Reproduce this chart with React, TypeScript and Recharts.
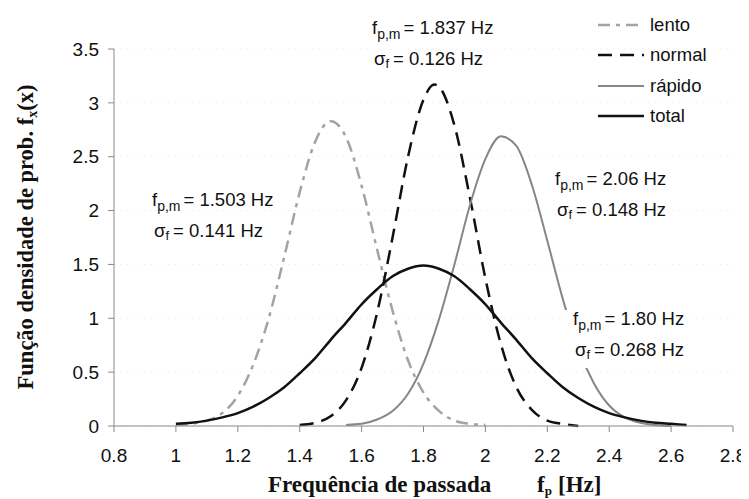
import { LineChart, Line, XAxis, YAxis, CartesianGrid } from 'recharts'

// (f_p in Hz, density)
const xLento = [1.0, 1.05, 1.1, 1.15, 1.2, 1.25, 1.3, 1.35, 1.4, 1.45, 1.5, 1.55, 1.6, 1.65, 1.7, 1.75, 1.8, 1.85, 1.9, 1.95, 2.0]
const yLento = [0.01, 0.02, 0.05, 0.12, 0.28, 0.57, 1.0, 1.57, 2.17, 2.64, 2.83, 2.68, 2.23, 1.64, 1.07, 0.61, 0.31, 0.14, 0.05, 0.02, 0.01]

const xNormal = [1.4, 1.45, 1.5, 1.55, 1.6, 1.65, 1.7, 1.75, 1.8, 1.835, 1.85, 1.9, 1.95, 2.0, 2.05, 2.1, 2.15, 2.2, 2.25, 2.3]
const yNormal = [0.01, 0.03, 0.09, 0.24, 0.54, 1.05, 1.75, 2.5, 3.03, 3.17, 3.15, 2.79, 2.12, 1.37, 0.76, 0.36, 0.15, 0.05, 0.02, 0.0]

const xRapido = [1.55, 1.6, 1.65, 1.7, 1.75, 1.8, 1.85, 1.9, 1.95, 2.0, 2.05, 2.1, 2.15, 2.2, 2.25, 2.3, 2.35, 2.4, 2.45, 2.5, 2.55, 2.6]
const yRapido = [0.01, 0.02, 0.06, 0.14, 0.3, 0.58, 0.99, 1.5, 2.05, 2.48, 2.69, 2.6, 2.24, 1.72, 1.18, 0.72, 0.4, 0.19, 0.08, 0.03, 0.01, 0.0]

const xTotal = [1.0, 1.05, 1.1, 1.15, 1.2, 1.25, 1.3, 1.35, 1.4, 1.45, 1.5, 1.55, 1.6, 1.65, 1.7, 1.75, 1.8, 1.85, 1.9, 1.95, 2.0, 2.05, 2.1, 2.15, 2.2, 2.25, 2.3, 2.35, 2.4, 2.45, 2.5, 2.55, 2.6, 2.65]
const yTotal = [0.02, 0.03, 0.05, 0.08, 0.12, 0.18, 0.26, 0.36, 0.49, 0.63, 0.8, 0.96, 1.13, 1.27, 1.39, 1.46, 1.49, 1.46, 1.39, 1.27, 1.13, 0.96, 0.8, 0.63, 0.49, 0.36, 0.26, 0.18, 0.12, 0.08, 0.05, 0.03, 0.02, 0.01]

const xTicks = [0.8, 1, 1.2, 1.4, 1.6, 1.8, 2, 2.2, 2.4, 2.6, 2.8]
const yTicks = [0, 0.5, 1, 1.5, 2, 2.5, 3, 3.5]

const toPoints = (xs: number[], ys: number[]) => xs.map((x, i) => ({ x, y: ys[i] }))

const SANS = '"Liberation Sans", Arial, sans-serif'
const SERIF = '"Liberation Serif", "Times New Roman", serif'

const GRAY_LIGHT = '#a3a3a3'
const GRAY = '#868686'
const BLACK = '#111'

const W = 741
const H = 491

function Stat({ x, y, mean, sd }: { x: number; y: number; mean: string; sd: string }) {
  return (
    <g fontFamily={SANS} fontSize={18.5} fill="#111">
      <text x={x} y={y}>
        f
        <tspan dy={5} fontSize={14}>p,m</tspan>
        <tspan dy={-5} dx={3}>= {mean} Hz</tspan>
      </text>
      <text x={x + 2} y={y + 31}>
        σ
        <tspan dy={3} fontSize={13}>f</tspan>
        <tspan dy={-3} dx={4}>= {sd} Hz</tspan>
      </text>
    </g>
  )
}

const legendItems = [
  { name: 'lento', color: GRAY_LIGHT, dash: '12 6 4 6', width: 2.5 },
  { name: 'normal', color: BLACK, dash: '14 8', width: 2.5 },
  { name: 'rápido', color: GRAY, dash: undefined, width: 2 },
  { name: 'total', color: BLACK, dash: undefined, width: 2.5 },
]

// Labels, legend and axis titles, drawn over the chart
function Overlay() {
  return (
    <svg width={W} height={H} style={{ position: 'absolute', left: 0, top: 0, pointerEvents: 'none' }}>
      {/* label box hides part of the rápido curve, as in the original */}
      <rect x={557} y={302} width={126} height={58} fill="#fff" />
      <Stat x={364} y={26} mean="1.837" sd="0.126" />
      <Stat x={144} y={198} mean="1.503" sd="0.141" />
      <Stat x={547} y={177} mean="2.06" sd="0.148" />
      <Stat x={565} y={317} mean="1.80" sd="0.268" />

      {legendItems.map((it, i) => {
        const cy = [17, 47, 78, 108][i]
        return (
          <g key={it.name}>
            <line x1={590} x2={636} y1={cy} y2={cy} stroke={it.color} strokeWidth={it.width} strokeDasharray={it.dash} />
            <text x={642} y={cy + 6} fontFamily={SANS} fontSize={18.5} fill="#111">
              {it.name}
            </text>
          </g>
        )
      })}

      <text transform="translate(17, 229) rotate(-90)" textAnchor="middle" dy="0.35em" fontFamily={SERIF} fontWeight="bold" fontSize={22.5} fill="#111">
        Função densidade de prob. f
        <tspan dy={4} fontSize={14}>x</tspan>
        <tspan dy={-4}>(x)</tspan>
      </text>

      <g fontFamily={SERIF} fontWeight="bold" fontSize={23} fill="#111">
        <text x={260} y={484}>Frequência de passada</text>
        <text x={529} y={484}>
          f<tspan dy={3} fontSize={13}>p</tspan>
        </text>
        <text x={550} y={484}>[Hz]</text>
      </g>
    </svg>
  )
}

export default function App() {
  return (
    <div style={{ position: 'relative', width: W, height: H }}>
      <LineChart width={W} height={H} margin={{ top: 41, right: 16, left: 46, bottom: 43 }}>
        <CartesianGrid horizontal vertical={false} stroke="#f3f3f3" strokeDasharray="2 4" />
        <XAxis
          type="number"
          dataKey="x"
          domain={[0.8, 2.8]}
          ticks={xTicks}
          allowDataOverflow
          height={30}
          tickSize={6}
          tickMargin={17}
          stroke="#888"
          tick={{ fill: '#111', fontSize: 19, fontFamily: SANS }}
        />
        <YAxis
          type="number"
          dataKey="y"
          domain={[0, 3.5]}
          ticks={yTicks}
          width={60}
          tickSize={6}
          tickMargin={9}
          stroke="#888"
          tick={{ fill: '#111', fontSize: 19, fontFamily: SANS }}
        />
        <Line data={toPoints(xLento, yLento)} dataKey="y" type="monotone" stroke={GRAY_LIGHT} strokeWidth={2.5} strokeDasharray="12 6 4 6" dot={false} isAnimationActive={false} />
        <Line data={toPoints(xNormal, yNormal)} dataKey="y" type="monotone" stroke={BLACK} strokeWidth={2.5} strokeDasharray="14 8" dot={false} isAnimationActive={false} />
        <Line data={toPoints(xRapido, yRapido)} dataKey="y" type="monotone" stroke={GRAY} strokeWidth={2} dot={false} isAnimationActive={false} />
        <Line data={toPoints(xTotal, yTotal)} dataKey="y" type="monotone" stroke={BLACK} strokeWidth={2.5} dot={false} isAnimationActive={false} />
      </LineChart>
      <Overlay />
    </div>
  )
}
